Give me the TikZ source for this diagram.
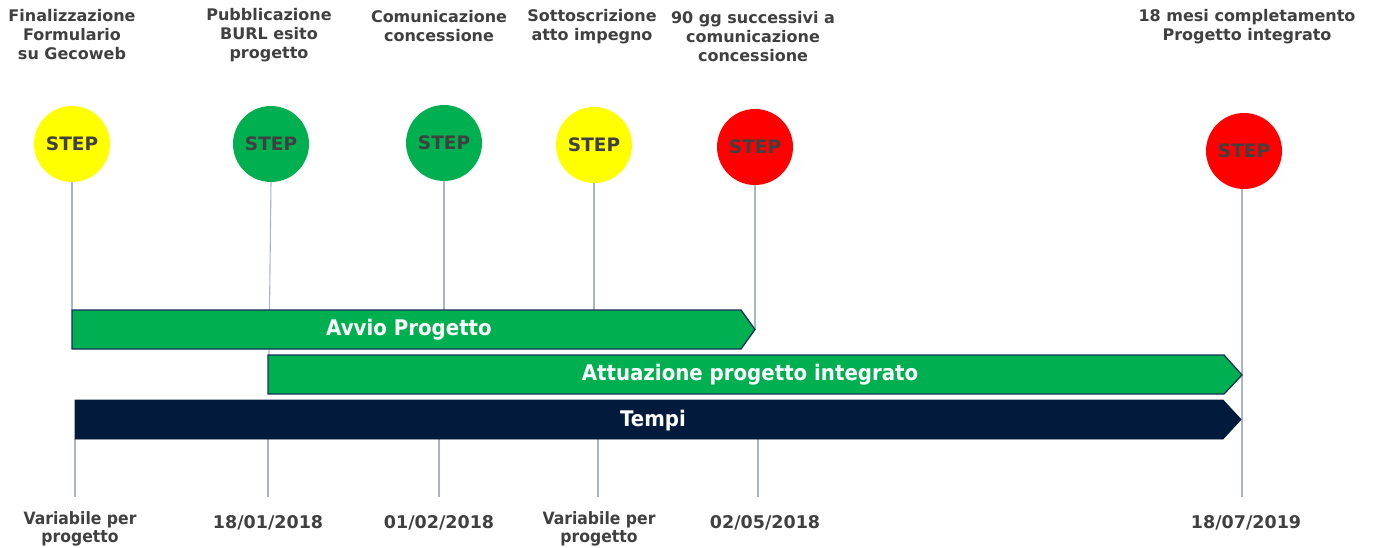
\documentclass[tikz,border=0pt]{standalone}
\usepackage{fontspec}
\setmainfont{DejaVu Sans}
\newfontfamily\condfont[FakeStretch=0.92]{DejaVu Sans}
\definecolor{txtgray}{HTML}{404040}
\definecolor{stepyellow}{HTML}{FFFF00}
\definecolor{stepgreen}{HTML}{00B050}
\definecolor{stepred}{HTML}{FF0000}
\definecolor{navy}{HTML}{021A3C}
\definecolor{edgenavy}{HTML}{13305A}
\definecolor{linegray}{HTML}{A9B6C8}
\begin{document}
\begin{tikzpicture}[x=1pt,y=-1pt,
  stepc/.style={circle, minimum size=76pt, inner sep=0pt, text=txtgray,
    font=\bfseries\fontsize{18.5}{20}\selectfont},
  toplbl/.style={align=center, text=txtgray, font=\bfseries\fontsize{16}{19}\selectfont},
  datelbl/.style={text=txtgray, font=\bfseries\fontsize{17.5}{19}\selectfont},
  varlbl/.style={align=center, text=txtgray, font=\condfont\bfseries\fontsize{17}{18}\selectfont},
  barlbl/.style={text=white, font=\condfont\bfseries\fontsize{21.5}{24}\selectfont},
  vline/.style={draw=linegray, line width=1.1pt},
  greenbar/.style={fill=stepgreen, draw=edgenavy, line width=1.3pt, line join=miter},
  navybar/.style={fill=navy, draw=navy, line width=0.8pt}
]
\useasboundingbox (0,0) rectangle (1378,548);

% step circles
\node[stepc, fill=stepyellow] (s1) at (72,144) {STEP};
\node[stepc, fill=stepgreen]  (s2) at (271,144) {STEP};
\node[stepc, fill=stepgreen]  (s3) at (444,143) {STEP};
\node[stepc, fill=stepyellow] (s4) at (594,145) {STEP};
\node[stepc, fill=stepred]    (s5) at (755,147) {STEP};
\node[stepc, fill=stepred]    (s6) at (1244,151) {STEP};

% top labels
\node[toplbl] (t1) at (72,35) {Finalizzazione\\Formulario\\ su Gecoweb};
\node[toplbl] (t2) at (269,35) {Pubblicazione\\BURL esito\\progetto};
\node[toplbl] (t3) at (439,26.5) {Comunicazione\\concessione};
\node[toplbl] (t4) at (592,26.5) {Sottoscrizione\\atto impegno};
\node[toplbl] (t5) at (753,37) {90 gg successivi a\\comunicazione\\concessione};
\node[toplbl] (t6) at (1247,26.5) {18 mesi completamento\\Progetto integrato};

% coordinates for vertical lines
\coordinate (a1) at (72,310);
\coordinate (a2) at (269,355);
\coordinate (a3) at (444,310);
\coordinate (a4) at (594,310);
\coordinate (a5) at (755,329.5);
\coordinate (a6) at (1242,497);

\coordinate (b1t) at (75,439);   \coordinate (b1) at (75,497);
\coordinate (b2t) at (268,439);  \coordinate (b2) at (268,497);
\coordinate (b3t) at (439,439);  \coordinate (b3) at (439,497);
\coordinate (b4t) at (598,439);  \coordinate (b4) at (598,497);
\coordinate (b5t) at (758,439);  \coordinate (b5) at (758,497);

% vertical lines (behind bars)
\draw[vline] (s1.south) -- (a1);
\draw[vline] (s2.south) -- (a2);
\draw[vline] (s3.south) -- (a3);
\draw[vline] (s4.south) -- (a4);
\draw[vline] (s5.south) -- (a5);
\draw[vline] ([xshift=-2pt]s6.south) -- (a6);
\draw[vline] (b1t) -- (b1);
\draw[vline] (b2t) -- (b2);
\draw[vline] (b3t) -- (b3);
\draw[vline] (b4t) -- (b4);
\draw[vline] (b5t) -- (b5);

% bars
\draw[greenbar] (72,310) -- (741,310) -- (755,329.5) -- (741,349) -- (72,349) -- cycle;
\node[barlbl] (avvio) at (409,330) {Avvio Progetto};

\draw[greenbar] (268,355) -- (1224,355) -- (1242,375) -- (1224,394) -- (268,394) -- cycle;
\node[barlbl] (attua) at (750,375) {Attuazione progetto integrato};

\draw[navybar] (75,400) -- (1223,400) -- (1241,419.5) -- (1223,439) -- (75,439) -- cycle;
\node[barlbl] (tempi) at (653,421) {Tempi};

% bottom labels
\node[varlbl] (d1) at (80,529) {Variabile per\\progetto};
\node[datelbl] (d2) at (268,523) {18/01/2018};
\node[datelbl] (d3) at (439,523) {01/02/2018};
\node[varlbl] (d4) at (599,529) {Variabile per\\progetto};
\node[datelbl] (d5) at (765,523) {02/05/2018};
\node[datelbl] (d6) at (1246,523) {18/07/2019};
\end{tikzpicture}
\end{document}
